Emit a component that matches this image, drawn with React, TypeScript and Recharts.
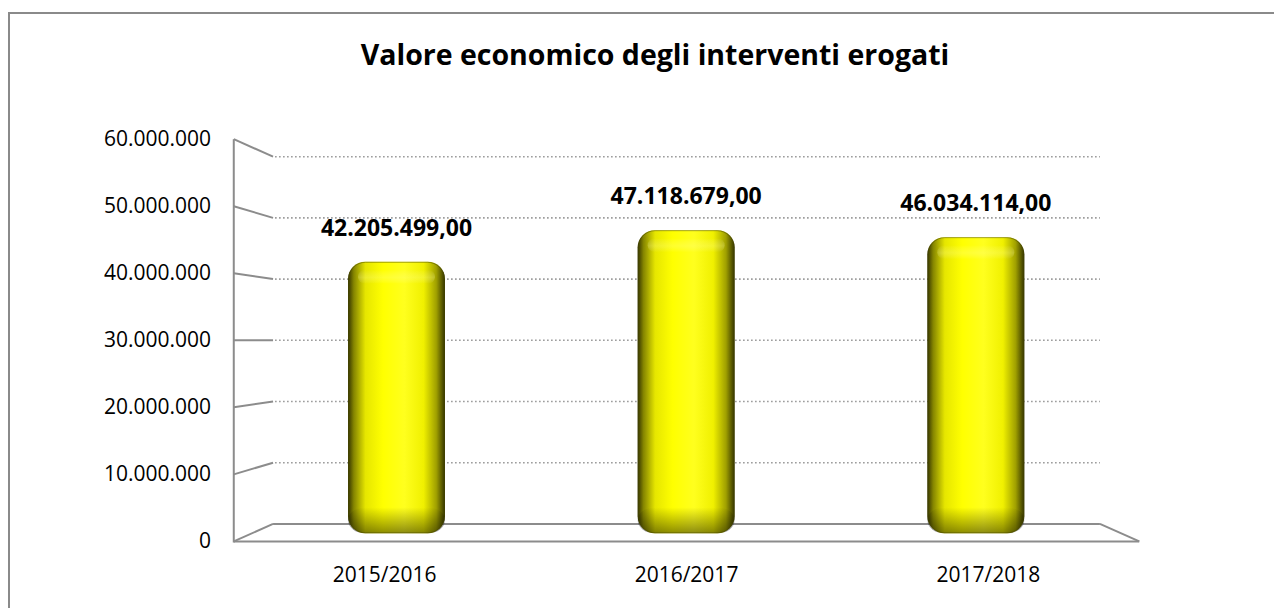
import React from 'react';
import { BarChart, Bar, XAxis, YAxis, CartesianGrid } from 'recharts';

const categories = ['2015/2016', '2016/2017', '2017/2018'];
const values = [42205499, 47118679, 46034114];
const yTicks = [0, 10000000, 20000000, 30000000, 40000000, 50000000, 60000000];
const title = 'Valore economico degli interventi erogati';

const data = categories.map((c, i) => ({ name: c, value: values[i] }));

const W = 1274;
const H = 600;
const PLOT_LEFT = 244;
const PLOT_RIGHT = 1113;
const PLOT_TOP = 139.3;
const PLOT_BOTTOM = 525.3;
const X_AXIS_H = 40;
const Y_AXIS_W = 200;

// pseudo-3D perspective: mid plane (bars) -> back wall / front edge
const CX = 678;
const CY = 332.7;
const BACK = 0.9515;
const FRONT = 1.042;
const back = (x: number, y: number) => [CX + BACK * (x - CX), CY + BACK * (y - CY)];
const front = (x: number, y: number) => [CX + FRONT * (x - CX), CY + FRONT * (y - CY)];

const FONT = '"Open Sans", "Noto Sans", sans-serif';
const AXIS_GRAY = '#8c8c8c';

function groupThousands(n: number): string {
  const s = Math.floor(n).toString();
  return s.replace(/\B(?=(\d{3})+(?!\d))/g, '.');
}
const fmtTick = (v: number) => groupThousands(v);
const fmtLabel = (v: number) => groupThousands(v) + ',00';

function GridLine(props: any) {
  const { y1, index } = props;
  const [fl, fy] = front(PLOT_LEFT, y1);
  const [bl, by] = back(PLOT_LEFT, y1);
  const [br] = back(PLOT_RIGHT, y1);
  const isZero = Math.abs(y1 - PLOT_BOTTOM) < 1;
  const parts: any[] = [];
  parts.push(
    <line key="d" x1={fl} y1={fy} x2={bl} y2={by} stroke={AXIS_GRAY} strokeWidth={2} />
  );
  if (isZero) {
    const [fr] = front(PLOT_RIGHT, y1);
    const [, ftop] = front(PLOT_LEFT, PLOT_TOP);
    parts.push(<line key="b" x1={bl} y1={by} x2={br} y2={by} stroke={AXIS_GRAY} strokeWidth={2} />);
    parts.push(<line key="f" x1={fl} y1={fy} x2={fr} y2={fy} stroke={AXIS_GRAY} strokeWidth={2} />);
    parts.push(<line key="r" x1={br} y1={by} x2={fr} y2={fy} stroke={AXIS_GRAY} strokeWidth={2} />);
    parts.push(<line key="v" x1={fl} y1={fy + 1} x2={fl} y2={ftop} stroke={AXIS_GRAY} strokeWidth={2} />);
  } else {
    parts.push(
      <line key="g" x1={bl + 2} y1={by} x2={br} y2={by} stroke="#9a9a9a" strokeWidth={1.6} strokeDasharray="1.6 2.4" />
    );
  }
  return <g key={`grid-${index}-${y1}`}>{parts}</g>;
}

function YTick(props: any) {
  const { y, payload } = props;
  const [, fy] = front(PLOT_LEFT, y);
  return (
    <text x={203} y={fy} dy={7} textAnchor="end" fontFamily={FONT} fontSize={21} fill="#000">
      {fmtTick(payload.value)}
    </text>
  );
}

function XTick(props: any) {
  const { x, payload } = props;
  const [fx] = front(x, PLOT_BOTTOM);
  return (
    <text x={fx} y={574} textAnchor="middle" fontFamily={FONT} fontSize={21} fill="#000">
      {payload.value}
    </text>
  );
}

function CylBar(props: any) {
  const { x, y, width, height, index } = props;
  if (!width || !height) return null;
  const id = `cyl-${index}`;
  const r = 17;
  return (
    <g>
      <defs>
        <linearGradient id={`${id}-h`} x1="0" y1="0" x2="1" y2="0">
          <stop offset="0%" stopColor="#333300" />
          <stop offset="6%" stopColor="#858500" />
          <stop offset="18%" stopColor="#e6e600" />
          <stop offset="36%" stopColor="#ffff00" />
          <stop offset="58%" stopColor="#ffff1e" />
          <stop offset="78%" stopColor="#f0f000" />
          <stop offset="91%" stopColor="#a0a000" />
          <stop offset="100%" stopColor="#333300" />
        </linearGradient>
        <linearGradient id={`${id}-v`} x1="0" y1="0" x2="0" y2="1">
          <stop offset="0%" stopColor="#000" stopOpacity={0} />
          <stop offset="100%" stopColor="#000" stopOpacity={0.45} />
        </linearGradient>
        <linearGradient id={`${id}-t`} x1="0" y1="0" x2="0" y2="1">
          <stop offset="0%" stopColor="#fff" stopOpacity={0} />
          <stop offset="55%" stopColor="#ffffb0" stopOpacity={0.25} />
          <stop offset="100%" stopColor="#fff" stopOpacity={0} />
        </linearGradient>
      </defs>
      <rect x={x} y={y} width={width} height={height} rx={r} ry={r} fill={`url(#${id}-h)`} />
      <rect x={x + 10} y={y + 8} width={width - 20} height={14} rx={7} fill={`url(#${id}-t)`} />
      <rect x={x} y={y + height - 26} width={width} height={26} rx={r} ry={r} fill={`url(#${id}-v)`} />
      <rect x={x + 0.5} y={y + 0.5} width={width - 1} height={height - 1} rx={r} ry={r} fill="none" stroke="#4a4a00" strokeOpacity={0.5} strokeWidth={1} />
    </g>
  );
}

function ValueLabel(props: any) {
  const { x, y, width, value } = props;
  return (
    <text x={x + width / 2} y={y - 26} textAnchor="middle" fontFamily={FONT} fontWeight={700} fontSize={23} fill="#000">
      {fmtLabel(value)}
    </text>
  );
}

export default function App() {
  return (
    <div style={{ position: 'relative', width: W, height: H, overflow: 'hidden', background: '#fff' }}>
      <div
        style={{
          position: 'absolute', left: 0, top: 4, width: W + 20, height: H + 20,
          borderLeft: '2px solid #8a8a8a', borderTop: '2px solid #8a8a8a', pointerEvents: 'none',
        }}
      />
      <div
        style={{
          position: 'absolute', left: 14, top: 27, width: W - 8, textAlign: 'center',
          fontFamily: FONT, fontWeight: 700, fontSize: 28.5, color: '#000', lineHeight: '38px',
        }}
      >
        {title}
      </div>
      <BarChart
        width={W}
        height={H}
        data={data}
        margin={{ top: PLOT_TOP, right: W - PLOT_RIGHT, left: PLOT_LEFT - Y_AXIS_W, bottom: H - PLOT_BOTTOM - X_AXIS_H }}
        barSize={97}
      >
        <CartesianGrid vertical={false} horizontal={(p: any) => <GridLine {...p} />} />
        <YAxis
          width={Y_AXIS_W}
          domain={[0, 60000000]}
          ticks={yTicks}
          interval={0}
          axisLine={false}
          tickLine={false}
          tick={<YTick />}
        />
        <XAxis dataKey="name" height={X_AXIS_H} axisLine={false} tickLine={false} interval={0} tick={<XTick />} />
        <Bar dataKey="value" isAnimationActive={false} shape={(p: any) => <CylBar {...p} />} label={(p: any) => <ValueLabel {...p} />} />
      </BarChart>
    </div>
  );
}
